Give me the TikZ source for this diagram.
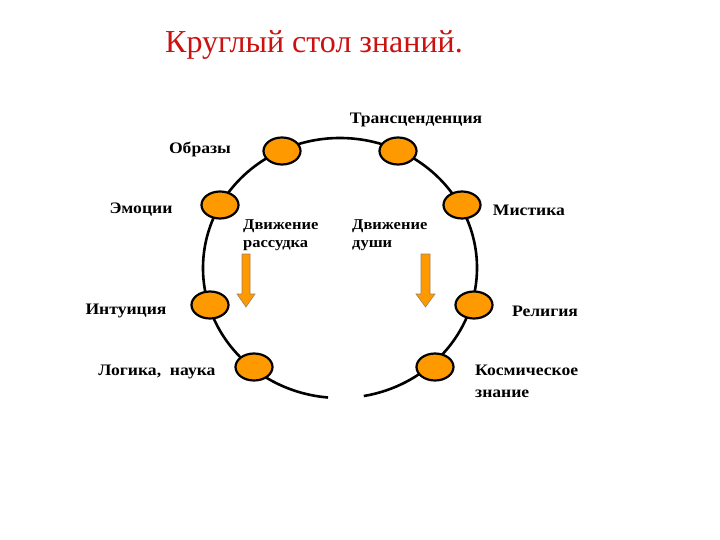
\documentclass[tikz,border=0pt]{standalone}
\usepackage{fontspec}
\setmainfont{Liberation Serif}
\newfontfamily\lblfont{Liberation Serif}[FakeStretch=1.1]
\usetikzlibrary{shapes.geometric,calc}
\definecolor{titlered}{HTML}{CC1111}
\definecolor{nodeorange}{HTML}{FF9900}
\definecolor{arrowedge}{HTML}{A08060}
\tikzset{
  member/.style={ellipse, draw=black, line width=2.2pt, fill=nodeorange, minimum width=37pt, minimum height=27pt, inner sep=0pt},
  lbl/.style={font=\lblfont\fontsize{16}{18}\selectfont\bfseries, inner sep=0pt, align=left},
  ring/.style={line width=2.6pt, draw=black},
  blockarrow/.style={fill=nodeorange, draw=arrowedge, line width=0.6pt}
}
\begin{document}
\begin{tikzpicture}[x=1pt,y=-1pt]
\path[use as bounding box, fill=white] (0,0) rectangle (720,540);
% title
\node[text=titlered, font=\fontsize{32}{36}\selectfont, inner sep=0pt] (title) at (314,45) {Круглый стол знаний.};
% ring
\coordinate (c) at (340,268);
\draw[ring] ($(c)+(95:137 and 130)$) arc[start angle=95, end angle=440, x radius=137, y radius=130];
% members
\node[member] (obr) at (282,151) {};
\node[member] (tra) at (398,151) {};
\node[member] (emo) at (220,205) {};
\node[member] (mis) at (462,205) {};
\node[member] (int) at (210,305) {};
\node[member] (rel) at (474,305) {};
\node[member] (log) at (254,367) {};
\node[member] (kos) at (435,367) {};
% labels
\node[lbl] (ltra) at (416,120) {Трансценденция};
\node[lbl] (lobr) at (200,149) {Образы};
\node[lbl] (lemo) at (141,210) {Эмоции};
\node[lbl] (lmis) at (529,210) {Мистика};
\node[lbl] (lint) at (126,311) {Интуиция};
\node[lbl] (lrel) at (545,311) {Религия};
\node[lbl] (llog) at (157,372) {Логика,\ \ наука};
\node[lbl, anchor=north west, font=\lblfont\fontsize{16}{22}\selectfont\bfseries] (lkos) at (475,365) {Космическое\\знание};
\node[lbl, anchor=north west, font=\lblfont\fontsize{15}{18}\selectfont\bfseries] (lrass) at (243,219) {Движение\\рассудка};
\node[lbl, anchor=north west, font=\lblfont\fontsize{15}{18}\selectfont\bfseries] (ldush) at (352,219) {Движение\\души};
% block arrows
\draw[blockarrow] (242,254) -- (250,254) -- (250,294) -- (255,294) -- (246,307) -- (237,294) -- (242,294) -- cycle;
\draw[blockarrow] (421,254) -- (430,254) -- (430,294) -- (435,294) -- (425.5,307) -- (416,294) -- (421,294) -- cycle;
\end{tikzpicture}
\end{document}
